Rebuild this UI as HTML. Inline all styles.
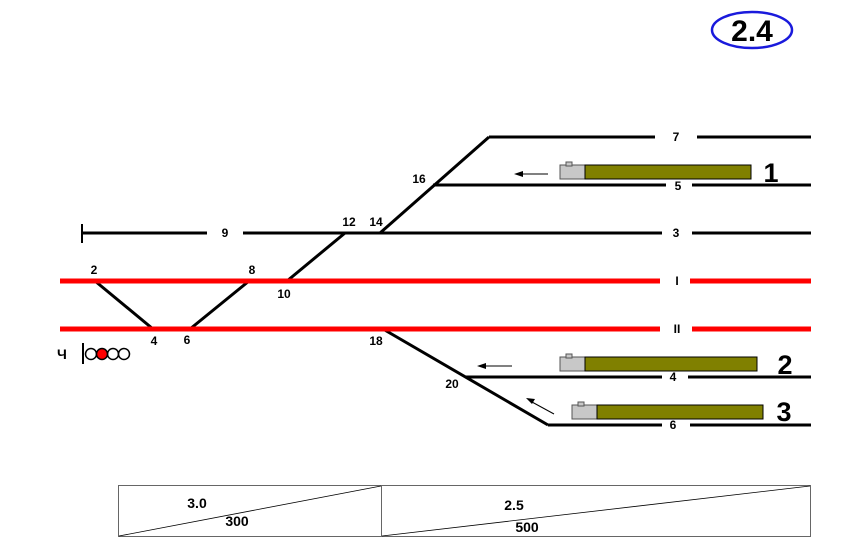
<!DOCTYPE html>
<html><head><meta charset="utf-8"><style>body{margin:0;background:#fff}svg{display:block}text{font-family:"Liberation Sans",sans-serif;font-weight:bold}</style></head><body>
<svg width="858" height="540" viewBox="0 0 858 540" xmlns="http://www.w3.org/2000/svg">
<rect width="858" height="540" fill="#fff"/>
<ellipse cx="752" cy="30" rx="40" ry="18" fill="none" stroke="#1a1adc" stroke-width="2.5"/>
<text x="752" y="41" font-size="30" text-anchor="middle">2.4</text>
<g stroke="#000" stroke-width="3" fill="none">
<path d="M489 137H655M697 137H811"/>
<path d="M489 137L380 233"/>
<path d="M433 185H666M692 185H811"/>
<path d="M82 233H207M243 233H662M692 233H811"/>
<path d="M82 224V243" stroke-width="2"/>
<path d="M345 233L287 281"/>
<path d="M95 281L153 329M249 281L190 329"/>
<path d="M383 329L548 425"/>
<path d="M465 377H662M688 377H811"/>
<path d="M548 425H662M690 425H811"/>
</g>
<g stroke="#f00" stroke-width="5">
<path d="M60 281H660M690 281H811"/>
<path d="M60 329H660M692 329H811"/>
</g>
<g font-size="12" text-anchor="middle">
<text x="676" y="141">7</text><text x="419" y="183">16</text><text x="678" y="190">5</text>
<text x="225" y="237">9</text><text x="349" y="226">12</text><text x="376" y="226">14</text><text x="676" y="237">3</text>
<text x="94" y="274">2</text><text x="252" y="274">8</text><text x="284" y="298">10</text><text x="677" y="285">I</text>
<text x="154" y="345">4</text><text x="187" y="344">6</text><text x="376" y="345">18</text><text x="677" y="333">II</text>
<text x="452" y="388">20</text><text x="673" y="381">4</text><text x="673" y="429">6</text>
</g>
<g stroke="#000" stroke-width="1">
<rect x="560" y="165" width="25" height="14" fill="#c8c8c8" stroke="#555"/><rect x="585" y="165" width="166" height="14" fill="#808000"/><rect x="566" y="162" width="6" height="4" fill="#c8c8c8" stroke="#555"/>
<rect x="560" y="357" width="25" height="14" fill="#c8c8c8" stroke="#555"/><rect x="585" y="357" width="172" height="14" fill="#808000"/><rect x="566" y="354" width="6" height="4" fill="#c8c8c8" stroke="#555"/>
<rect x="572" y="405" width="25" height="14" fill="#c8c8c8" stroke="#555"/><rect x="597" y="405" width="166" height="14" fill="#808000"/><rect x="578" y="402" width="6" height="4" fill="#c8c8c8" stroke="#555"/>
<path d="M522 174H548M485 366H512M532 402L554 414"/>
</g>
<path d="M514 174l9-3v6z M477 366l9-3v6z M526 398l9 1-3 5z" fill="#000"/>
<g font-size="27" text-anchor="middle"><text x="771" y="182">1</text><text x="785" y="374">2</text><text x="784" y="421">3</text></g>
<text x="57" y="359" font-size="14" font-weight="normal">Ч</text>
<path d="M83 343V364" stroke="#000" stroke-width="2"/>
<g stroke="#000" stroke-width="1.5" fill="#fff"><circle cx="91" cy="354" r="5.5"/><circle cx="113" cy="354" r="5.5"/><circle cx="124" cy="354" r="5.5"/><circle cx="102" cy="354" r="5.5" fill="#f00"/></g>
<g stroke="#666" stroke-width="1" fill="none"><rect x="118.5" y="485.5" width="692" height="51"/><path d="M381.5 485V537"/></g>
<path d="M119 536L381 486M382 536L810 486" stroke="#000" stroke-width="0.8"/>
<g font-size="14" text-anchor="middle"><text x="197" y="508">3.0</text><text x="237" y="526">300</text><text x="514" y="510">2.5</text><text x="527" y="532">500</text></g>
</svg>
</body></html>
